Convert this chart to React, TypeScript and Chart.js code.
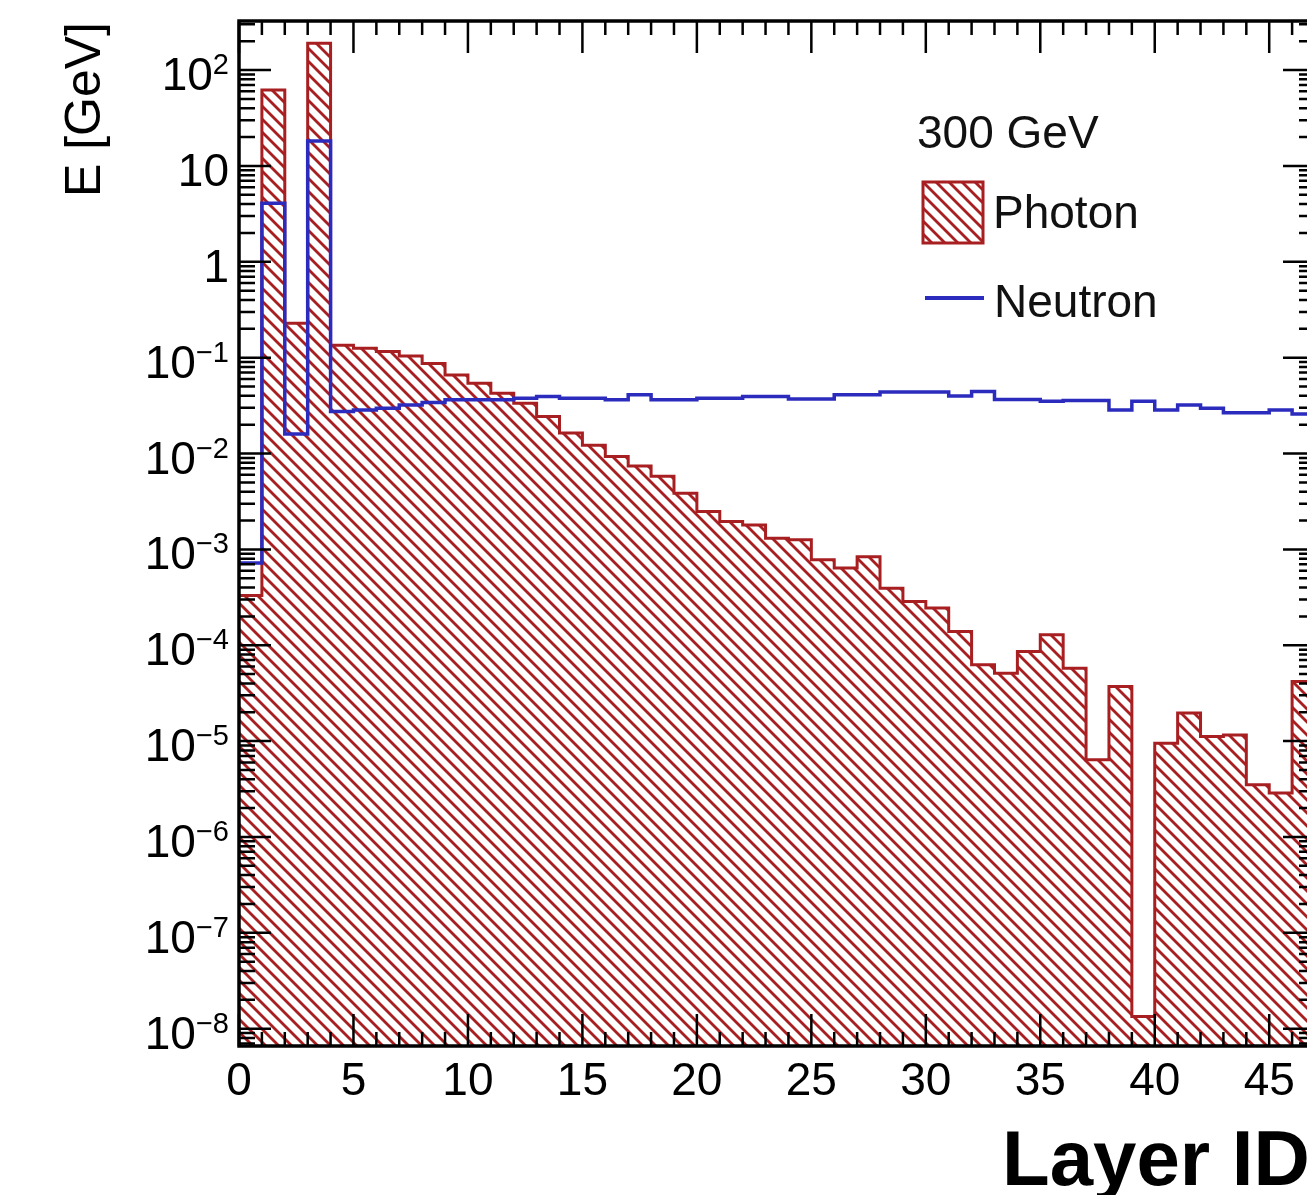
import { useEffect, useRef } from "react";
import { Chart, registerables } from "chart.js";

Chart.register(...registerables);

// ---------- data (bins of width 1, lower edges) ----------
const LAYER_EDGES = [
  0, 1, 2, 3, 4, 5, 6, 7, 8, 9, 10, 11, 12, 13, 14, 15, 16, 17, 18, 19, 20, 21, 22, 23,
  24, 25, 26, 27, 28, 29, 30, 31, 32, 33, 34, 35, 36, 37, 38, 39, 40, 41, 42, 43, 44, 45,
  46, 47,
];

const PHOTON_E = [
  3.3e-4, 62, 0.228, 190, 0.135, 0.125, 0.116, 0.104, 0.087, 0.066, 0.054, 0.0425,
  0.0334, 0.0243, 0.0164, 0.0122, 0.0093, 0.0074, 0.0058, 0.00385, 0.00248, 0.00195,
  0.0018, 0.00131, 0.00126, 0.00078, 0.00064, 0.00084, 0.000394, 0.000286, 0.000244,
  0.000139, 6.25e-5, 5.1e-5, 8.6e-5, 1.29e-4, 5.77e-5, 6.38e-6, 3.71e-5, 1.34e-8,
  9.5e-6, 1.96e-5, 1.12e-5, 1.16e-5, 3.5e-6, 2.87e-6, 4.19e-5,
];

const NEUTRON_E = [
  7.2e-4, 4.07, 0.016, 18.2, 0.0274, 0.0285, 0.0297, 0.0321, 0.034, 0.0363, 0.0363,
  0.0363, 0.0378, 0.0393, 0.0378, 0.0378, 0.0363, 0.041, 0.0363, 0.0363, 0.0378, 0.0378,
  0.0393, 0.0393, 0.037, 0.037, 0.041, 0.041, 0.0437, 0.0437, 0.0437, 0.0398, 0.0443,
  0.0366, 0.0366, 0.035, 0.0358, 0.0358, 0.0285, 0.035, 0.0285, 0.0321, 0.0297, 0.0267,
  0.0267, 0.0285, 0.0259,
];

const X_TICK_VALUES = [0, 5, 10, 15, 20, 25, 30, 35, 40, 45];
const X_TICK_LABELS = ["0", "5", "10", "15", "20", "25", "30", "35", "40", "45"];
const Y_TICK_VALUES = [1e2, 1e1, 1, 1e-1, 1e-2, 1e-3, 1e-4, 1e-5, 1e-6, 1e-7, 1e-8];
const Y_TICK_BASES = ["10", "10", "1", "10", "10", "10", "10", "10", "10", "10", "10"];
const Y_TICK_EXPONENTS = ["2", "", "", "−1", "−2", "−3", "−4", "−5", "−6", "−7", "−8"];
const Y_MINOR_MULTIPLIERS = [2, 3, 4, 5, 6, 7, 8, 9];

const X_TITLE = "Layer ID";
const Y_TITLE = "E [GeV]";
const LEGEND_HEADER = "300 GeV";
const SERIES_NAMES = ["Photon", "Neutron"];

const X_MIN = 0;
const X_MAX = 47;
const Y_MIN = 6.6e-9;
const Y_MAX = 325;

// ---------- styles ----------
const RED = "#a81f22";
const BLUE = "#2b2bbd";
const FONT = '"Liberation Sans", Arial, Helvetica, sans-serif';
const CANVAS_W = 1330;
const CANVAS_H = 1195;

function makeHatch(): CanvasPattern | string {
  const s = 13;
  const c = document.createElement("canvas");
  c.width = s;
  c.height = s;
  const g = c.getContext("2d");
  if (!g) return RED;
  g.strokeStyle = RED;
  g.lineWidth = 2.8;
  for (const off of [-s, 0, s]) {
    g.beginPath();
    g.moveTo(off - 1, -1);
    g.lineTo(off + s + 1, s + 1);
    g.stroke();
  }
  const p = g.createPattern(c, "repeat");
  return p || RED;
}

function toSteps(values: number[]) {
  const pts = values.map((v, i) => ({ x: LAYER_EDGES[i], y: v }));
  pts.push({ x: LAYER_EDGES[values.length], y: values[values.length - 1] });
  return pts;
}

export default function App() {
  const ref = useRef<HTMLCanvasElement | null>(null);

  useEffect(() => {
    const canvas = ref.current;
    if (!canvas) return;
    const hatch = makeHatch();

    const rootStyle = {
      id: "rootStyle",
      afterDatasetsDraw(chart: any) {
        const ctx: CanvasRenderingContext2D = chart.ctx;
        const xs = chart.scales.x;
        const ys = chart.scales.y;
        const { left, right, top, bottom } = chart.chartArea;
        ctx.save();

        // frame
        ctx.strokeStyle = "#000";
        ctx.lineWidth = 3.5;
        ctx.strokeRect(left, top, right - left, bottom - top);

        // x ticks (bottom and top, inward)
        ctx.lineWidth = 2.5;
        ctx.beginPath();
        for (let v = Math.ceil(X_MIN); v <= X_MAX; v++) {
          const px = xs.getPixelForValue(v);
          const major = X_TICK_VALUES.includes(v);
          const len = major ? 32 : 14;
          ctx.moveTo(px, bottom);
          ctx.lineTo(px, bottom - len);
          ctx.moveTo(px, top);
          ctx.lineTo(px, top + len);
        }
        ctx.stroke();

        // y ticks (left and right, inward)
        ctx.beginPath();
        for (const v of Y_TICK_VALUES) {
          const py = ys.getPixelForValue(v);
          ctx.moveTo(left, py);
          ctx.lineTo(left + 32, py);
          ctx.moveTo(right, py);
          ctx.lineTo(right - 32, py);
        }
        for (let d = -9; d <= 2; d++) {
          for (const m of Y_MINOR_MULTIPLIERS) {
            const v = m * Math.pow(10, d);
            if (v < Y_MIN || v > Y_MAX) continue;
            const py = ys.getPixelForValue(v);
            ctx.moveTo(left, py);
            ctx.lineTo(left + 16, py);
            ctx.moveTo(right, py);
            ctx.lineTo(right - 16, py);
          }
        }
        ctx.stroke();

        // x tick labels
        ctx.fillStyle = "#000";
        ctx.font = `46px ${FONT}`;
        ctx.textAlign = "center";
        ctx.textBaseline = "alphabetic";
        X_TICK_VALUES.forEach((v, i) => {
          ctx.fillText(X_TICK_LABELS[i], xs.getPixelForValue(v), bottom + 49);
        });

        // y tick labels with superscript exponents
        const labelRight = left - 10;
        Y_TICK_VALUES.forEach((v, i) => {
          const py = ys.getPixelForValue(v);
          const exp = Y_TICK_EXPONENTS[i];
          let expW = 0;
          ctx.textAlign = "right";
          if (exp) {
            ctx.font = `29px ${FONT}`;
            expW = ctx.measureText(exp).width;
            ctx.fillText(exp, labelRight, py + 4);
          }
          ctx.font = `46px ${FONT}`;
          ctx.fillText(Y_TICK_BASES[i], labelRight - expW, py + 20);
        });

        // y title (rotated, aligned to top)
        ctx.save();
        ctx.translate(100, top + 1);
        ctx.rotate(-Math.PI / 2);
        ctx.textAlign = "right";
        ctx.font = `50px ${FONT}`;
        ctx.fillText(Y_TITLE, 0, 0);
        ctx.restore();

        // x title
        ctx.textAlign = "left";
        ctx.font = `bold 78px ${FONT}`;
        ctx.fillText(X_TITLE, 1002, 1185);

        // legend
        ctx.font = `46px ${FONT}`;
        ctx.fillStyle = "#111";
        ctx.fillText(LEGEND_HEADER, 917, 148);

        ctx.fillStyle = hatch as any;
        ctx.fillRect(923, 182, 60, 61);
        ctx.strokeStyle = RED;
        ctx.lineWidth = 3;
        ctx.strokeRect(923, 182, 60, 61);
        ctx.fillStyle = "#111";
        ctx.fillText(SERIES_NAMES[0], 993, 228);

        ctx.strokeStyle = BLUE;
        ctx.lineWidth = 4;
        ctx.beginPath();
        ctx.moveTo(925, 298);
        ctx.lineTo(984, 298);
        ctx.stroke();
        ctx.fillStyle = "#111";
        ctx.fillText(SERIES_NAMES[1], 994, 317);

        ctx.restore();
      },
    };

    const chart = new Chart(canvas, {
      type: "line",
      data: {
        datasets: [
          {
            label: SERIES_NAMES[1],
            data: toSteps(NEUTRON_E),
            stepped: "before",
            borderColor: BLUE,
            borderWidth: 3.5,
            borderJoinStyle: "miter",
            pointRadius: 0,
            fill: false,
            order: 0,
          },
          {
            label: SERIES_NAMES[0],
            data: toSteps(PHOTON_E),
            stepped: "before",
            borderColor: RED,
            borderWidth: 3,
            borderJoinStyle: "miter",
            backgroundColor: hatch as any,
            pointRadius: 0,
            fill: "start",
            order: 1,
          },
        ],
      },
      options: {
        animation: false,
        responsive: false,
        maintainAspectRatio: false,
        devicePixelRatio: 1,
        layout: {
          padding: { left: 239, top: 21, right: CANVAS_W - 1315, bottom: CANVAS_H - 1046 },
        },
        scales: {
          x: { type: "linear", min: X_MIN, max: X_MAX, display: false },
          y: { type: "logarithmic", min: Y_MIN, max: Y_MAX, display: false },
        },
        plugins: {
          legend: { display: false },
          tooltip: { enabled: false },
        },
      },
      plugins: [rootStyle],
    } as any);

    return () => chart.destroy();
  }, []);

  return (
    <div
      style={{
        position: "absolute",
        left: 0,
        top: 0,
        width: 1307,
        height: 1195,
        overflow: "hidden",
        background: "#fff",
      }}
    >
      <canvas
        ref={ref}
        width={CANVAS_W}
        height={CANVAS_H}
        style={{ display: "block", width: CANVAS_W, height: CANVAS_H }}
      />
    </div>
  );
}
